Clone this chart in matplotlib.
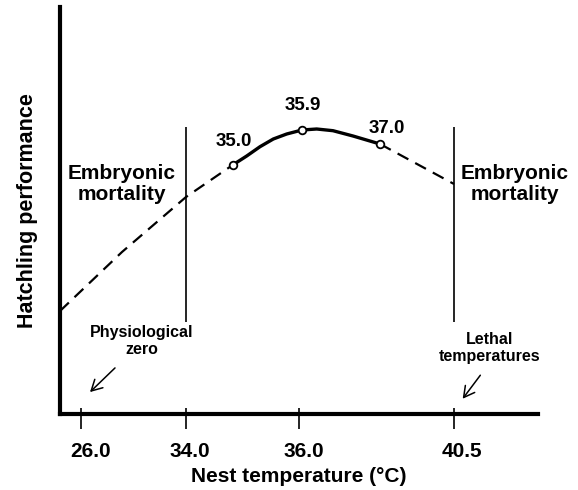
import matplotlib.pyplot as plt
from matplotlib.transforms import ScaledTranslation

plt.rcParams['font.family'] = ['Liberation Sans', 'DejaVu Sans']
plt.rcParams['font.weight'] = 'bold'

# schematic axis positions (not linear in temperature)
tick_pos = [21, 126, 239, 394]
tick_labels = ["26.0", "34.0", "36.0", "40.5"]
tick_label_shift = [10, 4, 5, 8]   # labels sit a little right of their ticks

# dashed extrapolation, left and right
left_x = [0, 62, 126, 172.7]
left_y = [103, 162, 217, 249]
right_x = [320, 394]
right_y = [270, 230]

# solid part of the curve
solid_x = [172.7, 186.7, 200, 213.3, 226.7, 242, 256.7, 273, 293, 320]
solid_y = [249, 258, 267.3, 275, 280, 284, 285, 283.3, 278, 270]

# measured points
pt_x = [172.7, 242, 320]
pt_y = [249, 284, 270]
pt_labels = ["35.0", "35.9", "37.0"]
pt_label_dx = [1.5, 1, 7]
pt_label_dy = [24, 25, 16]

# limits of the viable range
limit_x = [126, 394]
limit_bottom = 92
limit_top = 287

fig = plt.figure(figsize=(5.78, 4.9), dpi=100)
ax = fig.add_axes([60 / 578, 76 / 490, 478 / 578, 407 / 490])

ax.plot(left_x, left_y, color='black', lw=1.6, ls=(0, (5.5, 3.5)))
ax.plot(right_x, right_y, color='black', lw=1.6, ls=(0, (5.5, 3.5)))
ax.plot(solid_x, solid_y, color='black', lw=2.4, solid_capstyle='round',
        solid_joinstyle='round')
ax.plot(pt_x, pt_y, 'o', ms=5.5, mfc='white', mec='black', mew=1.3, zorder=5)

for x, y, s, dx, dy in zip(pt_x, pt_y, pt_labels, pt_label_dx, pt_label_dy):
    ax.text(x + dx, y + dy, s, ha='center', va='center', fontsize=13.5, fontweight='bold')

ax.vlines(limit_x, limit_bottom, limit_top, color='black', lw=1.2)

ax.text(62, 230, "Embryonic\nmortality", ha='center', va='center', fontsize=15,
        fontweight='bold', linespacing=1.15)
ax.text(455, 230, "Embryonic\nmortality", ha='center', va='center', fontsize=15,
        fontweight='bold', linespacing=1.15)

arrow = dict(arrowstyle='->,head_length=0.55,head_width=0.3', color='black', lw=1.1,
             mutation_scale=14)
ax.text(82, 73, "Physiological\nzero", ha='center', va='center', fontsize=11.5,
        fontweight='bold', linespacing=1.2)
ax.annotate("", xy=(28, 20), xytext=(57, 48), arrowprops=arrow)

ax.text(430, 66, "Lethal\ntemperatures", ha='center', va='center', fontsize=11.5,
        fontweight='bold', linespacing=1.2)
ax.annotate("", xy=(401, 13), xytext=(422, 41), arrowprops=arrow)

ax.set_xlim(0, 478)
ax.set_ylim(0, 407)

for side in ['top', 'right']:
    ax.spines[side].set_visible(False)
for side in ['left', 'bottom']:
    ax.spines[side].set_linewidth(3)

ax.set_yticks([])
ax.set_xticks(tick_pos)
ax.set_xticklabels(tick_labels, fontsize=15, fontweight='bold')
ax.set_xticks(tick_pos, minor=True)
ax.xaxis.remove_overlapping_locs = False
ax.tick_params(axis='x', which='major', direction='out', length=10.5, width=1.2, pad=10)
ax.tick_params(axis='x', which='minor', direction='in', length=4.5, width=1.2)
for lab, dx in zip(ax.get_xticklabels(), tick_label_shift):
    lab.set_transform(lab.get_transform() + ScaledTranslation(dx / 100, 0, fig.dpi_scale_trans))

ax.set_xlabel("Nest temperature (°C)", fontsize=15, fontweight='bold', labelpad=4)
ax.set_ylabel("Hatchling performance", fontsize=15.5, fontweight='bold', labelpad=16)

fig.savefig("out.png", dpi=100)
